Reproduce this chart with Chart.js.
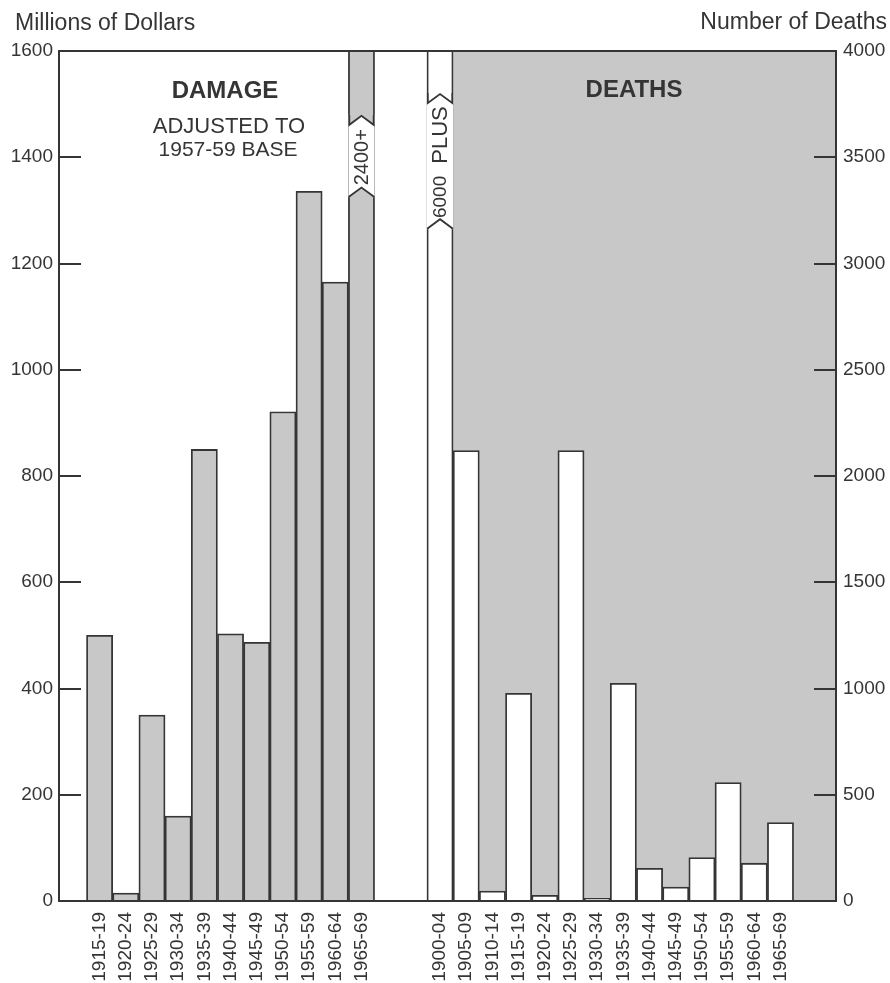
<!DOCTYPE html>
<html>
<head>
<meta charset="utf-8">
<title>Hurricane damage and deaths</title>
<script src="https://cdn.jsdelivr.net/npm/chart.js@4.4.1/dist/chart.umd.min.js"></script>
<style>
  html, body { margin: 0; padding: 0; background: #fff; }
  #wrap { width: 890px; height: 983px; position: relative; }
</style>
</head>
<body>
<div id="wrap"><canvas id="chart"></canvas></div>
<script>
  // five-year periods and values
  const damagePeriods = ['1915-19', '1920-24', '1925-29', '1930-34', '1935-39', '1940-44',
    '1945-49', '1950-54', '1955-59', '1960-64', '1965-69'];
  const damageValues = [500, 15, 350, 160, 850, 503, 487, 921, 1336, 1165, 2400];

  const deathPeriods = ['1900-04', '1905-09', '1910-14', '1915-19', '1920-24', '1925-29', '1930-34',
    '1935-39', '1940-44', '1945-49', '1950-54', '1955-59', '1960-64', '1965-69'];
  const deathValues = [6000, 2120, 47, 977, 27, 2120, 13, 1024, 154, 66, 204, 557, 178, 369];

  const damageTicks = [0, 200, 400, 600, 800, 1000, 1200, 1400, 1600];
  const deathTicks = [0, 500, 1000, 1500, 2000, 2500, 3000, 3500, 4000];

  // slot of the first bar in each panel on the shared x axis
  const damageStart = 1;
  const deathStart = 14;

  const INK = '#353535';
  const GRAY = '#c8c8c8';
  const SANS = "'Liberation Sans', Arial, sans-serif";

  const slotLabels = {};
  damagePeriods.forEach((p, i) => { slotLabels[damageStart + i] = p; });
  deathPeriods.forEach((p, i) => { slotLabels[deathStart + i] = p; });
  const tickSlots = Object.keys(slotLabels).map(Number);

  // values shown in the gap of a clipped bar, and where the gap sits on the axis
  const breaks = [
    { dataset: 0, index: damageValues.length - 1, axis: 'y', from: 1461, to: 1326, parts: [['2400+', 20]] },
    { dataset: 1, index: 0, axis: 'y1', from: 3755, to: 3166, parts: [['6000', 19], ['PLUS', 22]] }
  ];

  function drawBreak(chart, b) {
    const { ctx } = chart;
    const meta = chart.getDatasetMeta(b.dataset);
    const bar = meta.data[b.index];
    const { x, width } = bar.getProps(['x', 'width'], true);
    const ds = chart.data.datasets[b.dataset];
    const scale = chart.scales[b.axis];
    const bw = ds.borderWidth;
    const xL = x - width / 2;
    const xR = x + width / 2;
    const xc = x;
    const yUp = scale.getPixelForValue(b.from);
    const yLow = scale.getPixelForValue(b.to);
    const h = 9;

    ctx.save();
    ctx.fillStyle = '#fff';
    ctx.fillRect(xL, yUp - h, xR - xL, yLow - yUp + h);

    ctx.lineWidth = bw;
    ctx.strokeStyle = INK;
    ctx.lineJoin = 'miter';

    // upper piece, ending in a chevron
    ctx.fillStyle = ds.backgroundColor;
    ctx.beginPath();
    ctx.moveTo(xL, yUp - h - 1);
    ctx.lineTo(xR, yUp - h - 1);
    ctx.lineTo(xR, yUp);
    ctx.lineTo(xc, yUp - h);
    ctx.lineTo(xL, yUp);
    ctx.closePath();
    ctx.fill();
    ctx.beginPath();
    ctx.moveTo(xL + bw / 2, yUp - h - 1);
    ctx.lineTo(xL + bw / 2, yUp);
    ctx.lineTo(xc, yUp - h);
    ctx.lineTo(xR - bw / 2, yUp);
    ctx.lineTo(xR - bw / 2, yUp - h - 1);
    ctx.stroke();

    // lower piece, starting with a chevron
    ctx.beginPath();
    ctx.moveTo(xL, yLow + 1);
    ctx.lineTo(xL, yLow);
    ctx.lineTo(xc, yLow - h);
    ctx.lineTo(xR, yLow);
    ctx.lineTo(xR, yLow + 1);
    ctx.closePath();
    ctx.fill();
    ctx.beginPath();
    ctx.moveTo(xL + bw / 2, yLow + 1);
    ctx.lineTo(xL + bw / 2, yLow);
    ctx.lineTo(xc, yLow - h);
    ctx.lineTo(xR - bw / 2, yLow);
    ctx.lineTo(xR - bw / 2, yLow + 1);
    ctx.stroke();

    // value written sideways in the gap
    const gap = 12;
    const widths = b.parts.map(([t, size]) => { ctx.font = `${size}px ${SANS}`; return ctx.measureText(t).width; });
    const total = widths.reduce((s, w) => s + w, 0) + gap * (b.parts.length - 1);
    ctx.translate(xc, (yUp + yLow - h) / 2 + 1);
    ctx.rotate(-Math.PI / 2);
    ctx.fillStyle = INK;
    ctx.textBaseline = 'middle';
    ctx.textAlign = 'left';
    let pos = -total / 2;
    b.parts.forEach(([t, size], i) => {
      ctx.font = `${size}px ${SANS}`;
      ctx.fillText(t, pos, 1);
      pos += widths[i] + gap;
    });
    ctx.restore();
  }

  const panelPlugin = {
    id: 'panels',
    beforeDatasetsDraw(chart) {
      const { ctx, chartArea: a, scales: { x } } = chart;
      const left = x.getPixelForValue(deathStart + 0.5);
      ctx.save();
      ctx.fillStyle = GRAY;
      ctx.fillRect(left, a.top, a.right - left, a.bottom - a.top);
      ctx.restore();
    },
    afterDatasetsDraw(chart) {
      const { ctx, chartArea: a, scales } = chart;
      breaks.forEach(b => drawBreak(chart, b));

      ctx.save();
      ctx.strokeStyle = INK;
      ctx.lineWidth = 2;
      // inward tick marks
      ctx.beginPath();
      scales.y.ticks.forEach(t => {
        const y = Math.round(scales.y.getPixelForValue(t.value));
        ctx.moveTo(a.left, y);
        ctx.lineTo(a.left + 22, y);
      });
      scales.y1.ticks.forEach(t => {
        const y = Math.round(scales.y1.getPixelForValue(t.value));
        ctx.moveTo(a.right - 22, y);
        ctx.lineTo(a.right, y);
      });
      ctx.stroke();
      ctx.strokeRect(a.left, a.top, a.right - a.left, a.bottom - a.top);
      ctx.restore();
    },
    afterDraw(chart) {
      const { ctx } = chart;
      ctx.save();
      ctx.fillStyle = INK;
      ctx.textBaseline = 'alphabetic';

      ctx.font = `23px ${SANS}`;
      ctx.textAlign = 'left';
      ctx.fillText('Millions of Dollars', 15, 30);
      ctx.textAlign = 'right';
      ctx.fillText('Number of Deaths', 887, 29);

      ctx.textAlign = 'center';
      ctx.font = `bold 24px ${SANS}`;
      ctx.fillText('DAMAGE', 225, 98);
      ctx.fillText('DEATHS', 634, 97);
      ctx.font = `22px ${SANS}`;
      ctx.fillText('ADJUSTED TO', 229, 133);
      ctx.font = `21px ${SANS}`;
      ctx.fillText('1957-59 BASE', 228, 156);
      ctx.restore();
    }
  };

  const tickFont = { family: SANS, size: 19 };
  const noGrid = { display: false, drawTicks: false };

  new Chart(document.getElementById('chart'), {
    type: 'bar',
    data: {
      datasets: [
        {
          label: 'Damage',
          data: damageValues.map((v, i) => ({ x: damageStart + i, y: v })),
          yAxisID: 'y',
          backgroundColor: GRAY,
          borderColor: INK,
          borderWidth: 1.8,
          barPercentage: 1,
          categoryPercentage: 1,
          grouped: false
        },
        {
          label: 'Deaths',
          data: deathValues.map((v, i) => ({ x: deathStart + i, y: v })),
          yAxisID: 'y1',
          backgroundColor: '#ffffff',
          borderColor: INK,
          borderWidth: 1.8,
          barPercentage: 1,
          categoryPercentage: 1,
          grouped: false
        }
      ]
    },
    options: {
      responsive: true,
      maintainAspectRatio: false,
      animation: false,
      devicePixelRatio: 1,
      layout: { padding: { top: 51, left: 0, right: 0, bottom: 0 } },
      plugins: {
        legend: { display: false },
        tooltip: { enabled: false }
      },
      scales: {
        x: {
          type: 'linear',
          min: -0.55,
          max: 29.12,
          offset: false,
          grid: noGrid,
          border: { display: false },
          afterBuildTicks: s => { s.ticks = tickSlots.map(v => ({ value: v })); },
          afterFit: s => { s.height = 82; },
          ticks: {
            autoSkip: false,
            minRotation: 90,
            maxRotation: 90,
            padding: 11,
            color: INK,
            font: tickFont,
            callback: v => slotLabels[v] ?? ''
          }
        },
        y: {
          position: 'left',
          min: 0,
          max: 1600,
          grid: noGrid,
          border: { display: false },
          afterBuildTicks: s => { s.ticks = damageTicks.map(v => ({ value: v })); },
          afterFit: s => { s.width = 59; },
          ticks: { padding: 6, color: INK, font: tickFont, callback: v => String(v) }
        },
        y1: {
          position: 'right',
          min: 0,
          max: 4000,
          grid: noGrid,
          border: { display: false },
          afterBuildTicks: s => { s.ticks = deathTicks.map(v => ({ value: v })); },
          afterFit: s => { s.width = 54; },
          ticks: { padding: 7, color: INK, font: tickFont, callback: v => String(v) }
        }
      }
    },
    plugins: [panelPlugin]
  });
</script>
</body>
</html>
